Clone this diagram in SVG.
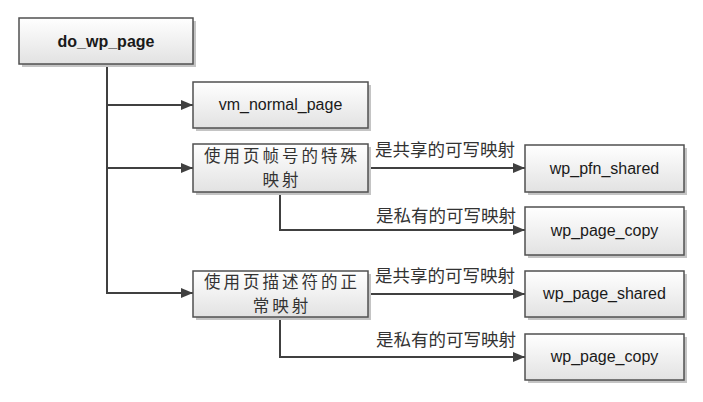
<svg xmlns="http://www.w3.org/2000/svg" width="703" height="402" viewBox="0 0 703 402">
<defs>
<linearGradient id="g" x1="0" y1="0" x2="0" y2="1">
<stop offset="0" stop-color="#ffffff"/>
<stop offset="1" stop-color="#e2e2e2"/>
</linearGradient>
<marker id="arr" markerUnits="userSpaceOnUse" markerWidth="12" markerHeight="10" refX="12" refY="5" orient="auto">
<path d="M0,0 L12,5 L0,10 z" fill="#404040"/>
</marker>
</defs>
<style>
.sh{fill:#c4c4c4;}
.bx{fill:url(#g);stroke:#505050;stroke-width:1.5;}
.en{font-family:"Liberation Sans",Arial,sans-serif;font-size:16px;fill:#1a1a1a;text-anchor:middle;}
.b{font-weight:bold;}
.cn{font-family:"Noto Sans CJK SC","Noto Sans",sans-serif;font-size:16.5px;letter-spacing:3px;fill:#333;text-anchor:middle;}
.lb{font-family:"Noto Sans CJK SC","Noto Sans",sans-serif;font-size:17.5px;fill:#333;text-anchor:middle;}
.c{fill:none;stroke:#404040;stroke-width:2;marker-end:url(#arr);}
</style>
<rect width="703" height="402" fill="#ffffff"/>
<g id="connectors">
<path class="c" d="M107 64 V293 H193"/>
<path class="c" d="M107 105 H193"/>
<path class="c" d="M107 168 H193"/>
<path class="c" d="M368 168 H525"/>
<path class="c" d="M280 192 V230 H525"/>
<path class="c" d="M368 294 H525"/>
<path class="c" d="M280 317 V357 H525"/>
<text class="lb" x="445" y="156">是共享的可写映射</text>
<text class="lb" x="446" y="222">是私有的可写映射</text>
<text class="lb" x="445" y="282">是共享的可写映射</text>
<text class="lb" x="446" y="346">是私有的可写映射</text>
</g>
<g id="do_wp_page">
<rect class="sh" x="22" y="21" width="174" height="46"/>
<rect class="bx" x="19" y="18" width="174" height="46"/>
<text class="en b" x="106" y="47">do_wp_page</text>
</g>
<g id="vm_normal_page">
<rect class="sh" x="196" y="85" width="175" height="46"/>
<rect class="bx" x="193" y="82" width="175" height="46"/>
<text class="en" x="280.5" y="110">vm_normal_page</text>
</g>
<g id="pfn_special">
<rect class="sh" x="196" y="147" width="175" height="48"/>
<rect class="bx" x="193" y="144" width="175" height="48"/>
<text class="cn" x="282" y="162">使用页帧号的特殊</text>
<text class="cn" x="282" y="186">映射</text>
</g>
<g id="wp_pfn_shared">
<rect class="sh" x="528" y="148" width="159" height="47"/>
<rect class="bx" x="525" y="145" width="159" height="47"/>
<text class="en" x="604.5" y="174">wp_pfn_shared</text>
</g>
<g id="wp_page_copy_1">
<rect class="sh" x="528" y="210" width="159" height="48"/>
<rect class="bx" x="525" y="207" width="159" height="48"/>
<text class="en" x="604.5" y="236">wp_page_copy</text>
</g>
<g id="page_normal">
<rect class="sh" x="196" y="274" width="175" height="46"/>
<rect class="bx" x="193" y="271" width="175" height="46"/>
<text class="cn" x="282" y="288">使用页描述符的正</text>
<text class="cn" x="282" y="312">常映射</text>
</g>
<g id="wp_page_shared">
<rect class="sh" x="528" y="274" width="159" height="46"/>
<rect class="bx" x="525" y="271" width="159" height="46"/>
<text class="en" x="604.5" y="299">wp_page_shared</text>
</g>
<g id="wp_page_copy_2">
<rect class="sh" x="528" y="337" width="159" height="46"/>
<rect class="bx" x="525" y="334" width="159" height="46"/>
<text class="en" x="604.5" y="362">wp_page_copy</text>
</g>
</svg>
